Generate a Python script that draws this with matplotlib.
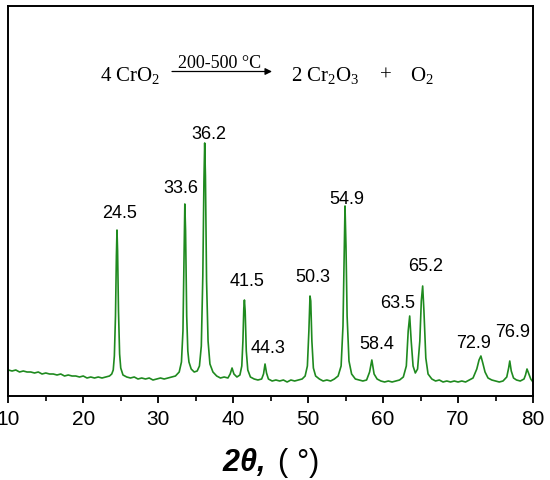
import matplotlib
matplotlib.use("Agg")
import matplotlib.pyplot as plt
from matplotlib.ticker import MultipleLocator

plt.rcParams['font.family'] = ['Liberation Sans', 'DejaVu Sans']
plt.rcParams['mathtext.fontset'] = 'custom'
plt.rcParams['mathtext.rm'] = 'Liberation Serif'
plt.rcParams['mathtext.it'] = 'Liberation Serif:italic'
plt.rcParams['mathtext.bf'] = 'Liberation Sans:italic:bold'

# XRD trace (2theta in degrees, intensity in arbitrary units)
two_theta = [10, 10.5, 11, 11.5, 12, 12.5, 13, 13.5, 14, 14.5, 15, 15.5, 16, 16.5, 17, 17.5, 18, 18.5,
             19, 19.5, 20, 20.5, 21, 21.5, 22, 22.5, 23, 23.5, 23.8, 24.0, 24.15, 24.3, 24.42, 24.5,
             24.58, 24.7, 24.85, 25.0, 25.3, 25.8, 26.3, 26.8, 27.3, 27.8, 28.3, 28.8, 29.3, 29.8,
             30.3, 30.8, 31.3, 31.8, 32.3, 32.8, 33.1, 33.3, 33.45, 33.55, 33.65, 33.8, 33.95, 34.1,
             34.4, 34.8, 35.2, 35.5, 35.75, 35.95, 36.1, 36.2, 36.3, 36.45, 36.65, 36.9, 37.3, 37.8,
             38.3, 38.8, 39.3, 39.6, 39.85, 40.1, 40.5, 40.9, 41.15, 41.3, 41.42, 41.5, 41.6, 41.75,
             41.95, 42.3, 42.8, 43.3, 43.8, 44.05, 44.25, 44.45, 44.7, 45.2, 45.7, 46.2, 46.7, 47.2,
             47.7, 48.2, 48.7, 49.2, 49.6, 49.9, 50.1, 50.25, 50.35, 50.5, 50.7, 51.0, 51.5, 52, 52.5,
             53, 53.5, 54.0, 54.4, 54.65, 54.8, 54.92, 55.05, 55.2, 55.45, 55.8, 56.3, 56.8, 57.3,
             57.8, 58.2, 58.5, 58.8, 59.2, 59.7, 60.2, 60.7, 61.2, 61.7, 62.2, 62.7, 63.1, 63.35,
             63.55, 63.75, 64.0, 64.3, 64.6, 64.9, 65.1, 65.28, 65.45, 65.7, 66.0, 66.5, 67, 67.5, 68,
             68.5, 69, 69.5, 70, 70.5, 71, 71.5, 72.0, 72.5, 72.8, 73.05, 73.3, 73.6, 74.0, 74.5,
             75.0, 75.5, 76.0, 76.5, 76.75, 76.9, 77.1, 77.4, 77.8, 78.3, 78.8, 79.0, 79.2, 79.45,
             79.7, 80]
intensity = [26, 25, 26, 24, 25, 24, 24, 23, 24, 22, 23, 22, 22, 21, 22, 20, 21, 20,
             20, 19, 20, 18, 19, 18, 19, 18, 19, 20, 22, 26, 40, 80, 140, 166,
             145, 85, 42, 28, 21, 19, 18, 19, 17, 18, 17, 18, 16, 17,
             18, 17, 18, 19, 20, 24, 34, 65, 140, 192, 165, 80, 45, 34,
             27, 24, 25, 30, 50, 120, 215, 253, 220, 115, 55, 32, 24, 20,
             18, 19, 18, 22, 28, 22, 19, 21, 30, 55, 88, 96, 85, 45,
             26, 19, 17, 16, 17, 22, 32, 23, 17, 15, 16, 15, 16, 14,
             16, 15, 16, 17, 20, 30, 65, 100, 95, 55, 28, 20, 17, 15, 16,
             15, 17, 20, 30, 70, 140, 190, 150, 80, 35, 22, 17, 16, 15,
             16, 24, 36, 22, 17, 15, 14, 15, 14, 15, 16, 19, 30, 65,
             80, 55, 30, 23, 27, 55, 95, 110, 85, 38, 22, 17, 15, 16, 14,
             15, 14, 15, 14, 15, 14, 16, 18, 27, 36, 40, 33, 24, 18, 16,
             15, 14, 15, 19, 28, 35, 25, 18, 16, 15, 17, 21, 27, 22,
             17, 14]

# Peak annotations
peak_labels = ['24.5', '33.6', '36.2', '41.5', '44.3', '50.3', '54.9', '58.4', '63.5', '65.2', '72.9', '76.9']
label_x = [24.8, 33.0, 36.7, 41.8, 44.7, 50.6, 55.15, 59.1, 61.9, 65.7, 72.1, 77.3]
label_y = [179, 204, 258, 111, 44, 115, 193, 48, 89, 126, 49, 60]

xticks = [10, 20, 30, 40, 50, 60, 70, 80]

fig = plt.figure(figsize=(5.5, 4.81), dpi=100)
ax = fig.add_axes([8.3/550, 1 - 397/481, 524.7/550, 390/481])
ax.plot(two_theta, intensity, color='#1f8a1f', lw=1.2)
ax.set_xlim(10, 80)
ax.set_ylim(0, 390)
ax.set_yticks([])
ax.set_xticks(xticks)
ax.xaxis.set_minor_locator(MultipleLocator(5))
ax.tick_params(axis='x', which='major', direction='out', length=5, width=1.3, labelsize=15, pad=4.5)
ax.tick_params(axis='x', which='minor', direction='out', length=3.5, width=1.2)
for s in ax.spines.values():
    s.set_linewidth(1.4)

for t, xx, yy in zip(peak_labels, label_x, label_y):
    ax.text(xx, yy, t, ha='center', va='baseline', fontsize=13, clip_on=False)

ax.set_xlabel(r'$\mathbf{2\theta,}$ ( °)', fontsize=22, labelpad=12)

def fx(px):
    return px / 550
def fy(py):
    return 1 - py / 481

fig.text(fx(100), fy(81), r'$\mathrm{4\ CrO_2}$', fontsize=15, va='baseline', ha='left')
fig.text(fx(220), fy(68), '200-500 °C', fontsize=13, va='baseline', ha='center', family='Liberation Serif')
ax.annotate('', xy=(fx(272), fy(72.5)), xycoords='figure fraction',
            xytext=(fx(172), fy(72.5)), textcoords='figure fraction',
            arrowprops=dict(arrowstyle='-|>', color='black', lw=0.9, mutation_scale=10,
                            shrinkA=0, shrinkB=0))
fig.text(fx(291), fy(81), r'$\mathrm{2\ Cr_2O_3}$', fontsize=15, va='baseline', ha='left')
fig.text(fx(386), fy(81), '+', fontsize=15, va='baseline', ha='center', family='Liberation Serif')
fig.text(fx(410), fy(81), r'$\mathrm{O_2}$', fontsize=15, va='baseline', ha='left')

fig.savefig('out.png', dpi=100)
